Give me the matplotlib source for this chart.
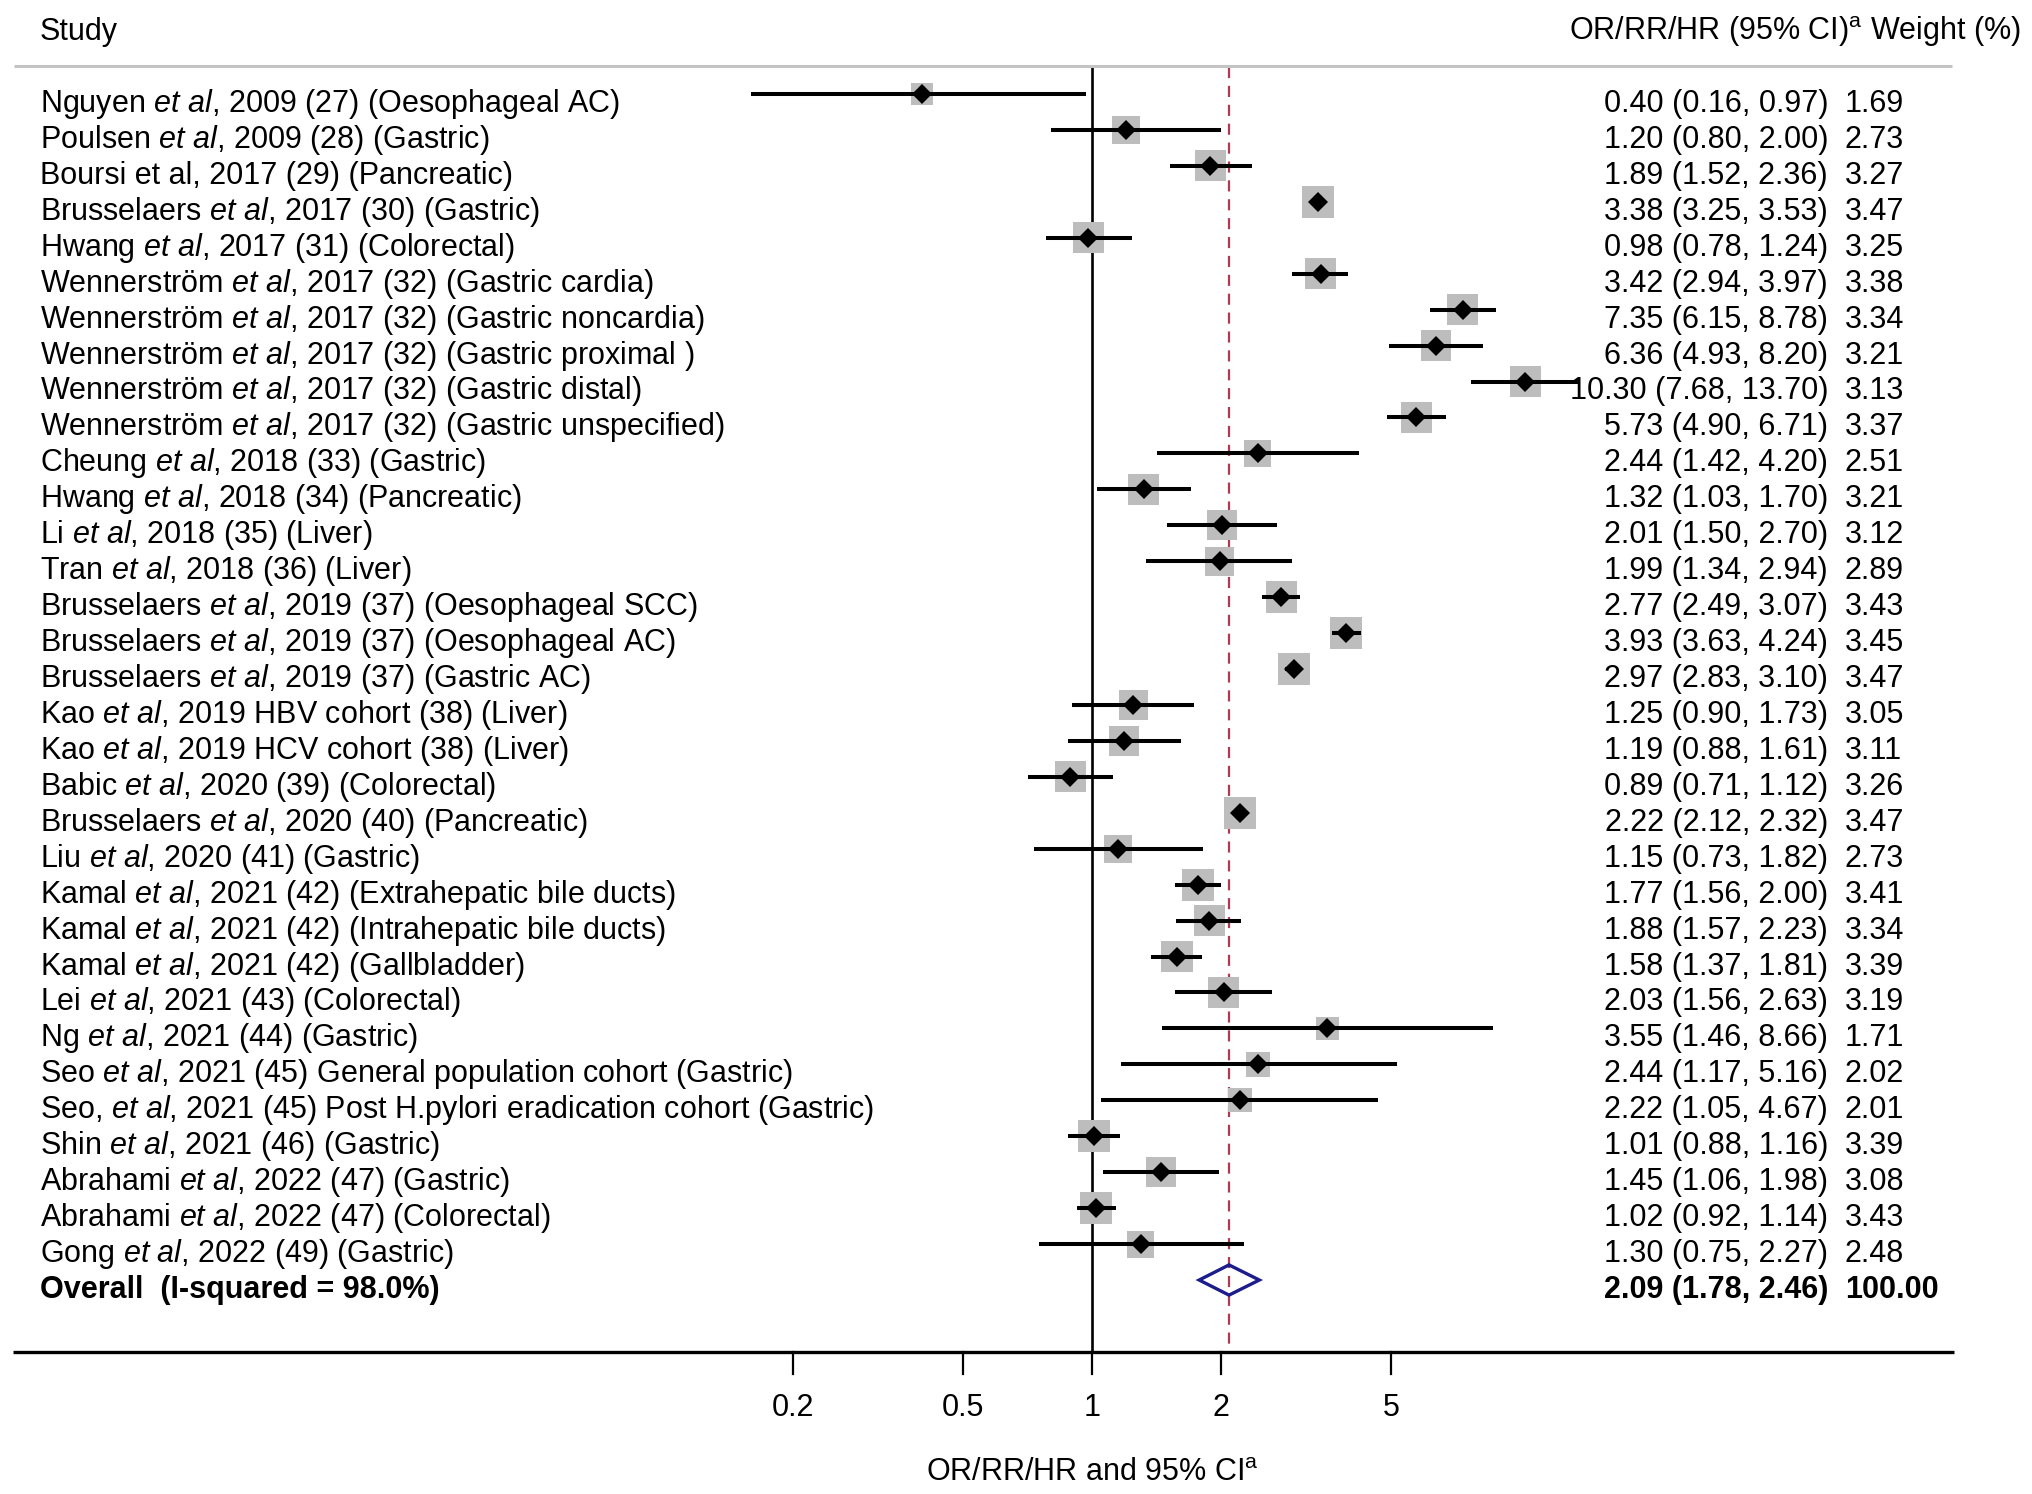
import numpy as np
import matplotlib
matplotlib.use("Agg")
import matplotlib.pyplot as plt
import matplotlib.transforms as mtransforms
from matplotlib.patches import Polygon

plt.rcParams['font.family'] = ['Liberation Sans', 'DejaVu Sans']
plt.rcParams['mathtext.fontset'] = 'custom'
plt.rcParams['mathtext.rm'] = 'Liberation Sans'
plt.rcParams['mathtext.it'] = 'Liberation Sans:italic'
plt.rcParams['mathtext.bf'] = 'Liberation Sans:bold'

ET = r"$\mathit{et\ al}$"

studies = [
    f"Nguyen {ET}, 2009 (27) (Oesophageal AC)",
    f"Poulsen {ET}, 2009 (28) (Gastric)",
    "Boursi et al, 2017 (29) (Pancreatic)",
    f"Brusselaers {ET}, 2017 (30) (Gastric)",
    f"Hwang {ET}, 2017 (31) (Colorectal)",
    f"Wennerström {ET}, 2017 (32) (Gastric cardia)",
    f"Wennerström {ET}, 2017 (32) (Gastric noncardia)",
    f"Wennerström {ET}, 2017 (32) (Gastric proximal )",
    f"Wennerström {ET}, 2017 (32) (Gastric distal)",
    f"Wennerström {ET}, 2017 (32) (Gastric unspecified)",
    f"Cheung {ET}, 2018 (33) (Gastric)",
    f"Hwang {ET}, 2018 (34) (Pancreatic)",
    f"Li {ET}, 2018 (35) (Liver)",
    f"Tran {ET}, 2018 (36) (Liver)",
    f"Brusselaers {ET}, 2019 (37) (Oesophageal SCC)",
    f"Brusselaers {ET}, 2019 (37) (Oesophageal AC)",
    f"Brusselaers {ET}, 2019 (37) (Gastric AC)",
    f"Kao {ET}, 2019 HBV cohort (38) (Liver)",
    f"Kao {ET}, 2019 HCV cohort (38) (Liver)",
    f"Babic {ET}, 2020 (39) (Colorectal)",
    f"Brusselaers {ET}, 2020 (40) (Pancreatic)",
    f"Liu {ET}, 2020 (41) (Gastric)",
    f"Kamal {ET}, 2021 (42) (Extrahepatic bile ducts)",
    f"Kamal {ET}, 2021 (42) (Intrahepatic bile ducts)",
    f"Kamal {ET}, 2021 (42) (Gallbladder)",
    f"Lei {ET}, 2021 (43) (Colorectal)",
    f"Ng {ET}, 2021 (44) (Gastric)",
    f"Seo {ET}, 2021 (45) General population cohort (Gastric)",
    f"Seo, {ET}, 2021 (45) Post H.pylori eradication cohort (Gastric)",
    f"Shin {ET}, 2021 (46) (Gastric)",
    f"Abrahami {ET}, 2022 (47) (Gastric)",
    f"Abrahami {ET}, 2022 (47) (Colorectal)",
    f"Gong {ET}, 2022 (49) (Gastric)",
]
est = [0.40, 1.20, 1.89, 3.38, 0.98, 3.42, 7.35, 6.36, 10.30, 5.73, 2.44, 1.32,
       2.01, 1.99, 2.77, 3.93, 2.97, 1.25, 1.19, 0.89, 2.22, 1.15, 1.77, 1.88,
       1.58, 2.03, 3.55, 2.44, 2.22, 1.01, 1.45, 1.02, 1.30]
lo = [0.16, 0.80, 1.52, 3.25, 0.78, 2.94, 6.15, 4.93, 7.68, 4.90, 1.42, 1.03,
      1.50, 1.34, 2.49, 3.63, 2.83, 0.90, 0.88, 0.71, 2.12, 0.73, 1.56, 1.57,
      1.37, 1.56, 1.46, 1.17, 1.05, 0.88, 1.06, 0.92, 0.75]
hi = [0.97, 2.00, 2.36, 3.53, 1.24, 3.97, 8.78, 8.20, 13.70, 6.71, 4.20, 1.70,
      2.70, 2.94, 3.07, 4.24, 3.10, 1.73, 1.61, 1.12, 2.32, 1.82, 2.00, 2.23,
      1.81, 2.63, 8.66, 5.16, 4.67, 1.16, 1.98, 1.14, 2.27]
weight = [1.69, 2.73, 3.27, 3.47, 3.25, 3.38, 3.34, 3.21, 3.13, 3.37, 2.51, 3.21,
          3.12, 2.89, 3.43, 3.45, 3.47, 3.05, 3.11, 3.26, 3.47, 2.73, 3.41, 3.34,
          3.39, 3.19, 1.71, 2.02, 2.01, 3.39, 3.08, 3.43, 2.48]

overall_label = "Overall  (I-squared = 98.0%)"
overall_est, overall_lo, overall_hi, overall_w = 2.09, 1.78, 2.46, 100.00

xticks = [0.2, 0.5, 1, 2, 5]
xticklabels = ["0.2", "0.5", "1", "2", "5"]

W, H = 2032, 1494
X1, DEC = 1092, 428.0      # pixel of x=1, pixels per decade
Y0, DY = 94, 35.94         # pixel of first row, row spacing

def fx(px):
    return px / W

def row(py):
    return (py - Y0) / DY

fig = plt.figure(figsize=(W / 100, H / 100), dpi=100)
ax = fig.add_axes([0, 0, 1, 1])
ax.set_xscale('log')
ax.set_xlim(10 ** (-X1 / DEC), 10 ** ((W - X1) / DEC))
ax.set_ylim(row(H), row(0))
ax.axis('off')
trans = mtransforms.blended_transform_factory(ax.transAxes, ax.transData)

fs = 22
n = len(studies)
y = np.arange(n)
est_a, lo_a, hi_a, w_a = map(np.array, (est, lo, hi, weight))

# header
ax.text(fx(40), row(40), "Study", transform=trans, fontsize=fs, ha='left', va='baseline')
ax.text(fx(2021), row(40), r"OR/RR/HR (95% CI)$^{\mathrm{a}}$ Weight (%)", transform=trans,
        fontsize=fs, ha='right', va='baseline')
ax.plot([fx(14), fx(1952)], [row(66)] * 2, transform=trans, color='#c4c4c4', lw=2.2,
        solid_capstyle='butt')

# reference lines
ax.plot([1, 1], [row(67), row(1352)], color='black', lw=1.9, zorder=1)
ax.plot([overall_est] * 2, [row(67), row(1352)], color='#b03a52', lw=1.6,
        dashes=(5, 3.5), zorder=1)

# study markers
ax.scatter(est_a, y, s=(23 * np.sqrt(w_a / 3.47)) ** 2, marker='s', color='#bdbdbd',
           linewidths=0, zorder=2)
ax.hlines(y, lo_a, hi_a, color='black', lw=2.9, zorder=3)
ax.plot(est_a, y, 'D', color='black', ms=10, mew=0, zorder=4)

# overall diamond
yo = n
hh = 0.42
ax.add_patch(Polygon([(overall_lo, yo), (overall_est, yo - hh), (overall_hi, yo),
                      (overall_est, yo + hh)], closed=True, fill=False,
                     edgecolor='#1c1c8c', lw=2.4, zorder=4))

# row texts
dy_txt = 0.5
for i in range(n):
    ax.text(fx(40), i + dy_txt, studies[i], transform=trans, fontsize=fs,
            ha='left', va='baseline')
    ax.text(fx(1828), i + dy_txt, f"{est[i]:.2f} ({lo[i]:.2f}, {hi[i]:.2f})",
            transform=trans, fontsize=fs, ha='right', va='baseline')
    ax.text(fx(1845), i + dy_txt, f"{weight[i]:.2f}", transform=trans, fontsize=fs,
            ha='left', va='baseline')
ax.text(fx(40), yo + dy_txt, overall_label, transform=trans, fontsize=fs,
        fontweight='bold', ha='left', va='baseline')
ax.text(fx(1828), yo + dy_txt,
        f"{overall_est:.2f} ({overall_lo:.2f}, {overall_hi:.2f})", transform=trans,
        fontsize=fs, fontweight='bold', ha='right', va='baseline')
ax.text(fx(1845), yo + dy_txt, f"{overall_w:.2f}", transform=trans, fontsize=fs,
        fontweight='bold', ha='left', va='baseline')

# x axis
ax.plot([fx(13), fx(1954)], [row(1352)] * 2, transform=trans, color='black', lw=2.4,
        solid_capstyle='butt')
for t, lab in zip(xticks, xticklabels):
    ax.plot([t, t], [row(1352), row(1374)], color='black', lw=1.6)
    ax.text(t, row(1416), lab, fontsize=fs, ha='center', va='baseline')
ax.text(1, row(1481), r"OR/RR/HR and 95% CI$^{\mathrm{a}}$", fontsize=fs,
        ha='center', va='baseline')

fig.savefig("out.png", dpi=100)
